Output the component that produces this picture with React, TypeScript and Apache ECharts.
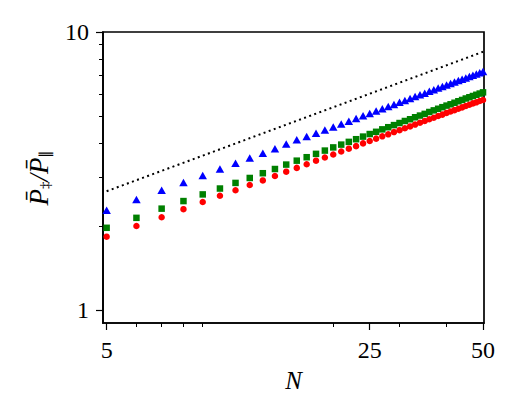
import React, { useEffect, useRef } from "react";
import * as echarts from "echarts";

const N = [5, 6, 7, 8, 9, 10, 11, 12, 13, 14, 15, 16, 17, 18, 19, 20, 21, 22, 23, 24, 25, 26, 27, 28, 29, 30, 31, 32, 33, 34, 35, 36, 37, 38, 39, 40, 41, 42, 43, 44, 45, 46, 47, 48, 49, 50];
const blueVals = [2.29, 2.5, 2.7, 2.88, 3.05, 3.22, 3.38, 3.53, 3.67, 3.81, 3.96, 4.1, 4.21, 4.33, 4.45, 4.56, 4.67, 4.78, 4.89, 5.0, 5.1, 5.2, 5.3, 5.4, 5.49, 5.59, 5.68, 5.77, 5.86, 5.95, 6.03, 6.12, 6.2, 6.29, 6.37, 6.45, 6.53, 6.61, 6.69, 6.77, 6.84, 6.92, 6.99, 7.07, 7.14, 7.21];
const greenVals = [1.98, 2.15, 2.32, 2.47, 2.61, 2.74, 2.87, 2.99, 3.11, 3.22, 3.34, 3.45, 3.55, 3.65, 3.75, 3.85, 3.94, 4.03, 4.12, 4.21, 4.3, 4.38, 4.47, 4.55, 4.63, 4.71, 4.79, 4.86, 4.94, 5.01, 5.08, 5.16, 5.23, 5.3, 5.37, 5.44, 5.5, 5.57, 5.64, 5.7, 5.77, 5.83, 5.89, 5.95, 6.01, 6.07];
const redVals = [1.84, 2.01, 2.16, 2.31, 2.45, 2.58, 2.7, 2.82, 2.93, 3.04, 3.15, 3.25, 3.35, 3.45, 3.54, 3.63, 3.72, 3.81, 3.89, 3.98, 4.06, 4.14, 4.22, 4.29, 4.37, 4.44, 4.51, 4.58, 4.65, 4.72, 4.79, 4.86, 4.92, 4.99, 5.05, 5.12, 5.18, 5.24, 5.3, 5.36, 5.42, 5.48, 5.54, 5.59, 5.65, 5.7];
const refN = [5, 50];
const refVals = [2.68, 8.49];

const xMajorTicks = [5, 25, 50];
const xMinorTicks = [6, 7, 8, 9, 20, 30, 40];
const yMajorTicks = [1, 10];
const yMinorTicks = [2, 3, 4, 5, 6, 7, 8, 9];
const xRange = [4.89, 50.3];
const yRange = [0.901, 10];
const xTitle = "N";
const yTitle = "{p|P\u0304}{s|‡}{p|/P\u0304}{s|∥}";

const FONT = "Liberation Serif";
const lg = (v: number) => Math.log10(v);

export default function App() {
  const ref = useRef<HTMLDivElement>(null);
  useEffect(() => {
    if (!ref.current) return;
    const chart = echarts.init(ref.current, undefined, { renderer: "svg" });
    const pts = (vals: number[]) => N.map((n, i) => [lg(n), lg(vals[i])]);
    const xCommon = {
      type: "value" as const,
      min: lg(xRange[0]),
      max: lg(xRange[1]),
      position: "bottom" as const,
      splitLine: { show: false },
      axisLabel: { show: false },
    };
    const yCommon = {
      type: "value" as const,
      min: lg(yRange[0]),
      max: lg(yRange[1]),
      position: "left" as const,
      splitLine: { show: false },
      axisLabel: { show: false },
    };
    chart.setOption({
      animation: false,
      backgroundColor: "#ffffff",
      grid: {
        left: 103,
        top: 32,
        width: 381,
        height: 291,
        show: true,
        borderColor: "#000",
        borderWidth: 1.7,
        outerBoundsMode: "none",
      },
      xAxis: [
        {
          ...xCommon,
          axisLine: { show: true, onZero: false, lineStyle: { color: "#000", width: 1.7 } },
          axisTick: { show: true, inside: false, length: 7, customValues: xMajorTicks.map(lg), lineStyle: { color: "#000", width: 1.2 } },
        },
        {
          ...xCommon,
          axisLine: { show: false, onZero: false },
          axisTick: { show: true, inside: false, length: 4, customValues: xMinorTicks.map(lg), lineStyle: { color: "#000", width: 1 } },
        },
      ],
      yAxis: [
        {
          ...yCommon,
          axisLine: { show: true, onZero: false, lineStyle: { color: "#000", width: 1.7 } },
          axisTick: { show: true, inside: false, length: 7, customValues: yMajorTicks.map(lg), lineStyle: { color: "#000", width: 1.2 } },
        },
        {
          ...yCommon,
          axisLine: { show: false, onZero: false },
          axisTick: { show: true, inside: false, length: 4, customValues: yMinorTicks.map(lg), lineStyle: { color: "#000", width: 1 } },
        },
      ],
      series: [
        {
          type: "line",
          data: refN.map((n, i) => [lg(n), lg(refVals[i])]),
          showSymbol: false,
          symbol: "none",
          lineStyle: { color: "#000", width: 2, type: [2, 3.4], cap: "butt" },
          silent: true,
        },
        {
          type: "scatter",
          data: pts(blueVals),
          symbol: "triangle",
          symbolSize: [8.5, 7.5],
          itemStyle: { color: "#0000ff", opacity: 1 },
        },
        {
          type: "scatter",
          data: pts(greenVals),
          symbol: "rect",
          symbolSize: 6.5,
          itemStyle: { color: "#008000", opacity: 1 },
        },
        {
          type: "scatter",
          data: pts(redVals),
          symbol: "circle",
          symbolSize: 6.5,
          itemStyle: { color: "#ff0000", opacity: 1 },
        },
      ],
    });

    // Tick labels and titles, placed through the axes' own scales
    const xPix = (v: number) => chart.convertToPixel({ xAxisIndex: 0 }, lg(v)) as number;
    const yPix = (v: number) => chart.convertToPixel({ yAxisIndex: 0 }, lg(v)) as number;
    const bottom = yPix(yRange[0]);
    const left = xPix(xRange[0]);
    const right = xPix(xRange[1]);
    const top = yPix(yRange[1]);
    const txt = (text: string, x: number, y: number, align: string, vAlign: string, extra: any = {}) => ({
      type: "text",
      x,
      y,
      silent: true,
      style: {
        text,
        fill: "#000",
        fontFamily: FONT,
        fontSize: 24,
        align,
        verticalAlign: vAlign,
        ...extra,
      },
    });
    const graphics: any[] = [];
    xMajorTicks.forEach((t) => graphics.push(txt(String(t), xPix(t), bottom + 27, "center", "middle")));
    yMajorTicks.forEach((t) => graphics.push(txt(String(t), left - 14, yPix(t), "right", "middle")));
    graphics.push(txt(xTitle, (left + right) / 2, bottom + 57, "center", "middle", { fontStyle: "italic", fontSize: 25 }));
    graphics.push({
      type: "text",
      x: left - 66,
      y: (top + bottom) / 2,
      rotation: Math.PI / 2,
      silent: true,
      style: {
        text: yTitle,
        fill: "#000",
        fontFamily: FONT,
        fontSize: 27,
        align: "center",
        verticalAlign: "middle",
        rich: {
          p: { fontFamily: FONT, fontStyle: "italic", fontSize: 27, lineHeight: 30, fill: "#000", verticalAlign: "bottom" },
          s: { fontFamily: FONT, fontSize: 15, lineHeight: 20, fill: "#000", verticalAlign: "bottom" },
        },
      },
    });
    chart.setOption({ graphic: graphics });
    return () => chart.dispose();
  }, []);
  return <div ref={ref} style={{ width: 519, height: 417, position: "absolute", left: 0, top: 0 }} />;
}
